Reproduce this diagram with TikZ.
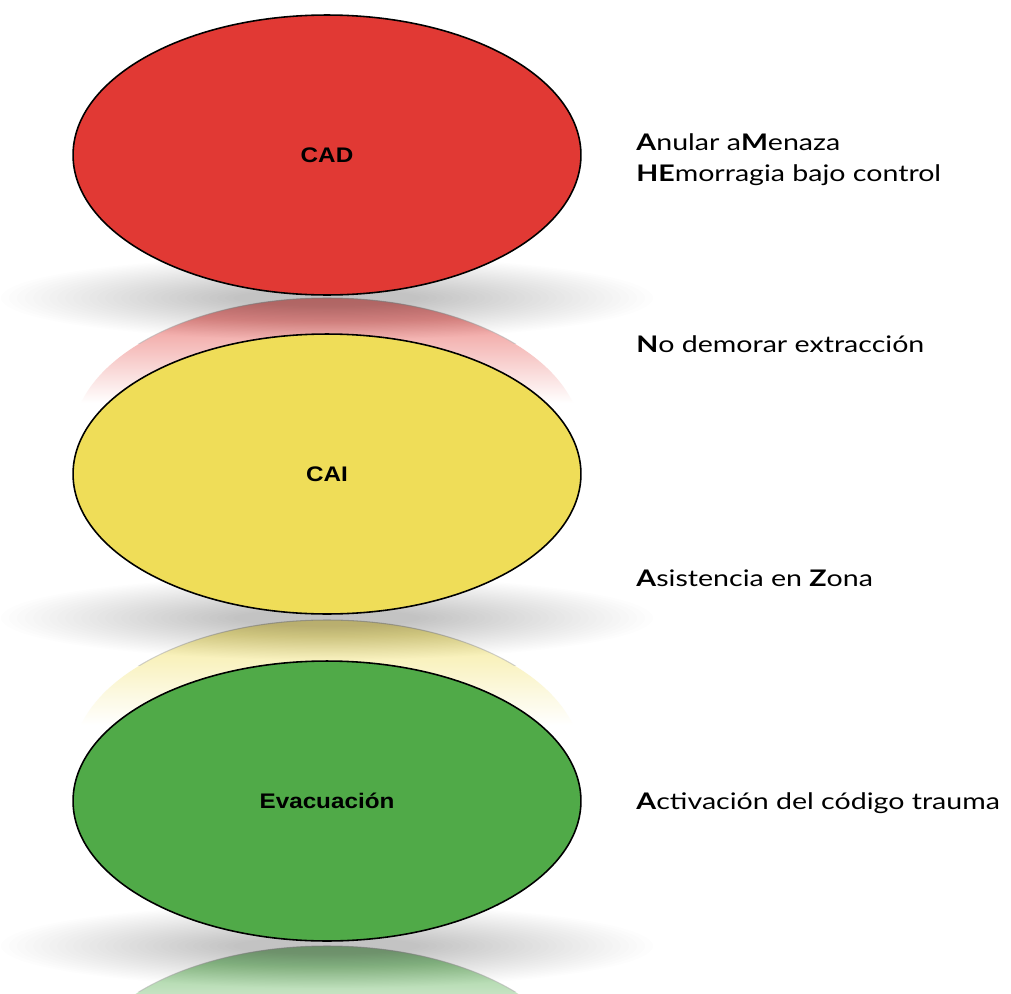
\documentclass[tikz,border=0pt]{standalone}
\usepackage{fontspec}
\setmainfont{Liberation Sans}
\newfontfamily\lblfont[FakeStretch=1.15]{Liberation Sans}
\newfontfamily\rfont[FakeStretch=1.25]{Lato}
\usetikzlibrary{shapes.geometric}
\definecolor{cred}{RGB}{225,57,52}
\definecolor{cyel}{RGB}{239,221,88}
\definecolor{cgrn}{RGB}{80,170,72}
\tikzset{
  blob/.style={ellipse, draw=black, line width=0.9pt, minimum width=10.16cm, minimum height=5.6cm, inner sep=0pt,
    font=\lblfont\fontsize{12pt}{14pt}\selectfont\bfseries},
  rt/.style={anchor=base west, inner sep=0pt, font=\rfont\fontsize{13pt}{15pt}\selectfont}
}
\newcommand{\mirrorblob}[2]{%
  \begin{scope}
    \clip (327,#1) ellipse [x radius=254, y radius=140];
    \shade[top color=#2!62!white, bottom color=white] (60,#1-141) rectangle (600,#1-35);
  \end{scope}
  \begin{scope}
    \clip (0,#1-142) rectangle (1011,#1-95);
    \draw[gray!60, line width=0.6pt, opacity=0.6] (327,#1) ellipse [x radius=254, y radius=140];
  \end{scope}}
\newcommand{\softshadow}[1]{%
  \foreach \i in {0,...,29}{
    \fill[black, opacity=0.009] (327,#1) ellipse [x radius={326-\i*8}, y radius={42-\i*1.15}];
  }}
\begin{document}
\begin{tikzpicture}[x=0.02cm,y=-0.02cm]
\useasboundingbox (0,0) rectangle (1011,994);
\fill[white] (0,0) rectangle (1011,994);
% reflections
\mirrorblob{438}{cred}
\mirrorblob{760}{cyel}
\mirrorblob{1086}{cgrn}
% shadows
\softshadow{298}
\softshadow{618}
\softshadow{946}
% ellipses
\node[blob, fill=cred] (cad) at (327,155) {CAD};
\node[blob, fill=cyel] (cai) at (327,474) {CAI};
\node[blob, fill=cgrn] (evac) at (327,801) {Evacuación};
% right texts
\node[rt] (t1) at (636,150) {\textbf{A}nular a\textbf{M}enaza};
\node[rt] (t2) at (636,181) {\textbf{HE}morragia bajo control};
\node[rt] (t3) at (636,352) {\textbf{N}o demorar extracción};
\node[rt] (t4) at (636,586) {\textbf{A}sistencia en \textbf{Z}ona};
\node[rt] (t5) at (636,809) {\textbf{A}ctivación del código trauma};
\end{tikzpicture}
\end{document}
